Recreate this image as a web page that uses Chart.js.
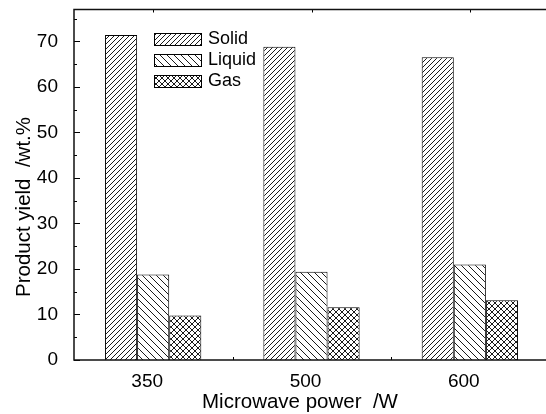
<!DOCTYPE html>
<html>
<head>
<meta charset="utf-8">
<script src="https://cdn.jsdelivr.net/npm/chart.js@4.4.1/dist/chart.umd.min.js"></script>
<style>
  html, body { margin: 0; padding: 0; overflow: hidden; background: #fff; }
  #wrap { width: 552px; height: 414px; }
</style>
</head>
<body>
<div id="wrap"><canvas id="chart" width="552" height="414"></canvas></div>
<script>
// data
const powers = ['350', '500', '600'];
const solid = [71.4, 68.8, 66.5];
const liquid = [18.8, 19.4, 21.0];
const gas = [9.8, 11.6, 13.1];
const yTicks = [0, 10, 20, 30, 40, 50, 60, 70];
const yMinor = [5, 15, 25, 35, 45, 55, 65, 75];

const FONT = 'Arial, "Liberation Sans", sans-serif';

// hatch tiles
function makePattern(size, dirs, lw) {
  const c = document.createElement('canvas');
  c.width = size; c.height = size;
  const g = c.getContext('2d');
  g.fillStyle = '#fff';
  g.fillRect(0, 0, size, size);
  g.strokeStyle = '#000';
  g.lineWidth = lw;
  g.beginPath();
  if (dirs.includes('/')) {
    g.moveTo(-1, size + 1); g.lineTo(size + 1, -1);
    g.moveTo(-1, 1); g.lineTo(1, -1);
    g.moveTo(size - 1, size + 1); g.lineTo(size + 1, size - 1);
  }
  if (dirs.includes('\\')) {
    g.moveTo(-1, -1); g.lineTo(size + 1, size + 1);
    g.moveTo(size - 1, -1); g.lineTo(size + 1, 1);
    g.moveTo(-1, size - 1); g.lineTo(1, size + 1);
  }
  g.stroke();
  return g.createPattern(c, 'repeat');
}

const ctx = document.getElementById('chart').getContext('2d');
const solidFill = makePattern(5, '/', 0.9);
const liquidFill = makePattern(7, '\\', 0.9);
const gasFill = makePattern(6, '/\\', 0.9);

// inward tick marks, frame, titles, legend
const framePlugin = {
  id: 'frame',
  beforeDatasetsDraw(chart) {
    const { ctx, chartArea: a, scales } = chart;
    ctx.save();
    ctx.strokeStyle = '#000';
    ctx.lineWidth = 1;
    ctx.beginPath();
    yTicks.forEach(v => {
      const y = Math.round(scales.y.getPixelForValue(v)) + 0.5;
      ctx.moveTo(a.left, y); ctx.lineTo(a.left + 6, y);
    });
    yMinor.forEach(v => {
      const y = Math.round(scales.y.getPixelForValue(v)) + 0.5;
      ctx.moveTo(a.left, y); ctx.lineTo(a.left + 3, y);
    });
    for (let i = 0; i < powers.length; i++) {
      const x = Math.round(scales.x.getPixelForValue(i)) + 0.5;
      ctx.moveTo(x, a.bottom); ctx.lineTo(x, a.bottom - 6);
      ctx.moveTo(x, a.top); ctx.lineTo(x, a.top + 3);
      if (i > 0) {
        const xm = Math.round((x + scales.x.getPixelForValue(i - 1)) / 2) + 0.5;
        ctx.moveTo(xm, a.bottom); ctx.lineTo(xm, a.bottom - 3);
      }
    }
    ctx.stroke();
    ctx.restore();
  },
  afterDraw(chart) {
    const { ctx, chartArea: a } = chart;
    ctx.save();
    ctx.strokeStyle = '#111';
    ctx.lineWidth = 1.5;
    ctx.strokeRect(a.left, a.top, a.right - a.left, a.bottom - a.top);
    ctx.restore();

    // axis titles
    ctx.save();
    ctx.fillStyle = '#000';
    ctx.font = '20.5px ' + FONT;
    ctx.textAlign = 'center';
    ctx.textBaseline = 'middle';
    ctx.fillText('Microwave power  /W', 300, 402);
    ctx.translate(24, 207);
    ctx.rotate(-Math.PI / 2);
    ctx.fillText('Product yield  /wt.%', 0, 0);
    ctx.restore();

    // legend
    ctx.save();
    ctx.font = '18px ' + FONT;
    ctx.textAlign = 'left';
    ctx.textBaseline = 'middle';
    chart.data.datasets.forEach((ds, i) => {
      const cy = 39 + i * 21;
      ctx.fillStyle = ds.backgroundColor;
      ctx.fillRect(154, cy - 6, 48, 12);
      ctx.strokeStyle = '#000';
      ctx.lineWidth = 1;
      ctx.strokeRect(154.5, cy - 5.5, 47, 12);
      ctx.fillStyle = '#000';
      ctx.fillText(ds.label, 208, cy);
    });
    ctx.restore();
  }
};

new Chart(ctx, {
  type: 'bar',
  data: {
    labels: powers,
    datasets: [
      { label: 'Solid', data: solid, backgroundColor: solidFill },
      { label: 'Liquid', data: liquid, backgroundColor: liquidFill },
      { label: 'Gas', data: gas, backgroundColor: gasFill }
    ]
  },
  options: {
    responsive: false,
    devicePixelRatio: 1,
    animation: false,
    layout: { padding: { top: 9.5, right: 3, left: 0, bottom: 0 } },
    datasets: {
      bar: {
        borderColor: '#000',
        borderWidth: 1,
        categoryPercentage: 0.608,
        barPercentage: 1.0
      }
    },
    plugins: {
      legend: { display: false },
      tooltip: { enabled: false }
    },
    scales: {
      x: {
        grid: { display: false },
        border: { display: false },
        ticks: {
          color: '#000',
          font: { family: FONT, size: 19 },
          padding: 2,
          labelOffset: -6,
          maxRotation: 0
        },
        afterFit(scale) {
          scale.height = 54;
          scale.paddingLeft = 0; scale.paddingRight = 0;
        }
      },
      y: {
        min: 0,
        max: 77,
        grid: { display: false },
        border: { display: false },
        ticks: {
          color: '#000',
          font: { family: FONT, size: 19 },
          padding: 8
        },
        afterBuildTicks(scale) {
          scale.ticks = yTicks.map(v => ({ value: v }));
        },
        afterFit(scale) {
          scale.width = 74;
          scale.paddingTop = 0; scale.paddingBottom = 0;
        }
      }
    }
  },
  plugins: [framePlugin]
});
</script>
</body>
</html>
